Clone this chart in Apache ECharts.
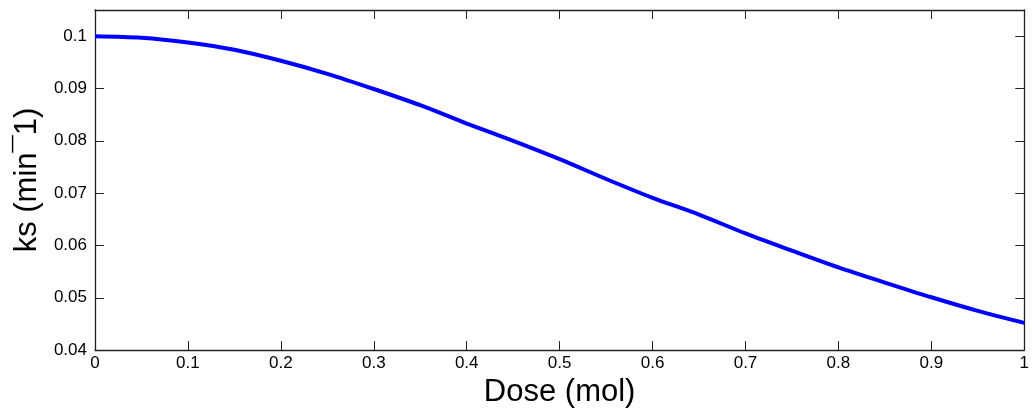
<!DOCTYPE html>
<html>
<head>
<meta charset="utf-8">
<script src="https://cdn.jsdelivr.net/npm/echarts@6/dist/echarts.min.js"></script>
<style>
html,body{margin:0;padding:0;background:#fff;}
#c{width:1032px;height:413px;}
</style>
</head>
<body>
<div id="c"></div>
<script>
const dose = [0, 0.05, 0.1, 0.15, 0.2, 0.25, 0.3, 0.35, 0.4, 0.45, 0.5, 0.55, 0.6, 0.65, 0.7, 0.75, 0.8, 0.85, 0.9, 0.95, 1.0];
const ks = [0.1000, 0.0997, 0.0988, 0.0974, 0.0953, 0.0928, 0.0899, 0.0868, 0.0833, 0.0800, 0.0765, 0.0727, 0.0691, 0.0659, 0.0623, 0.0590, 0.0558, 0.0529, 0.0501, 0.0475, 0.0452];
const xTitle = 'Dose (mol)';
const yTitle = 'ks (min\u00AF1)';

const font = 'Liberation Sans, Arial, Helvetica, sans-serif';
const axisColor = '#222';
const fmt = v => String(+(+v).toFixed(3));

const chart = echarts.init(document.getElementById('c'), null, {renderer: 'canvas'});
const tickCommon = {show: true, inside: true, length: 9, lineStyle: {color: axisColor, width: 1}};
chart.setOption({
  animation: false,
  backgroundColor: '#fff',
  grid: {left: 95, right: 3, top: 10, bottom: 59, show: false},
  xAxis: [{
    type: 'value', min: 0, max: 1, interval: 0.1,
    name: xTitle, nameLocation: 'middle', nameGap: 23,
    nameTextStyle: {fontFamily: font, fontSize: 31, color: '#000'},
    axisLine: {show: true, onZero: false, lineStyle: {color: axisColor, width: 1.3}},
    axisTick: tickCommon,
    axisLabel: {fontFamily: font, fontSize: 17, color: '#000', margin: 5, formatter: fmt},
    splitLine: {show: false}
  }, {
    type: 'value', min: 0, max: 1, interval: 0.1, position: 'top',
    axisLine: {show: true, onZero: false, lineStyle: {color: axisColor, width: 1.3}},
    axisTick: tickCommon,
    axisLabel: {show: false},
    splitLine: {show: false}
  }],
  yAxis: [{
    type: 'value', min: 0.04, max: 0.105, interval: 0.01,
    name: yTitle, nameLocation: 'middle', nameGap: 52,
    nameTextStyle: {fontFamily: font, fontSize: 31, color: '#000'},
    axisLine: {show: true, onZero: false, lineStyle: {color: axisColor, width: 1.3}},
    axisTick: tickCommon,
    axisLabel: {fontFamily: font, fontSize: 17, color: '#000', margin: 8, formatter: fmt, showMaxLabel: false},
    splitLine: {show: false}
  }, {
    type: 'value', min: 0.04, max: 0.105, interval: 0.01, position: 'right',
    axisLine: {show: true, onZero: false, lineStyle: {color: axisColor, width: 1.3}},
    axisTick: tickCommon,
    axisLabel: {show: false},
    splitLine: {show: false}
  }],
  series: [{
    type: 'line',
    data: dose.map((d, i) => [d, ks[i]]),
    smooth: 0.3,
    showSymbol: false,
    lineStyle: {color: '#0000ff', width: 4},
    clip: false
  }]
});
</script>
</body>
</html>
